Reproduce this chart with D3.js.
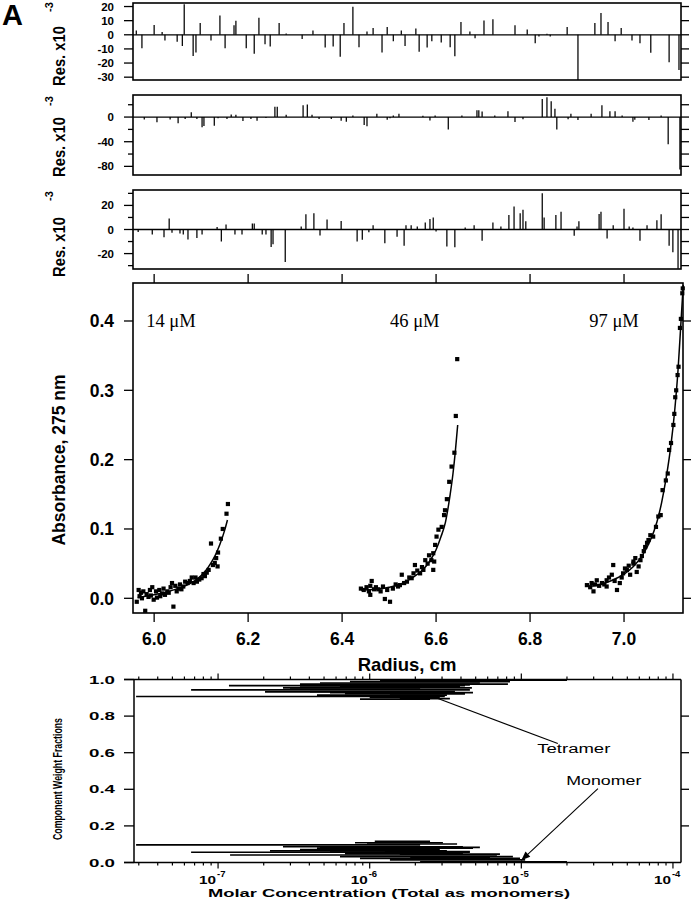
<!DOCTYPE html>
<html><head><meta charset="utf-8">
<script src="https://cdn.jsdelivr.net/npm/d3@7"></script>
<style>body{margin:0;background:#fff}svg{display:block}</style>
</head><body>
<script>
// ---------------- DATA ----------------
const radiusTicks = [6.0, 6.2, 6.4, 6.6, 6.8, 7.0];
const absTicks = [0.0, 0.1, 0.2, 0.3, 0.4];
const concLabels = ["14 μM", "46 μM", "97 μM"];
const concLabelPos = [[5.983, 0.392], [6.502, 0.392], [6.926, 0.392]];

const pts14 = [[5.963,-0.005],[5.967,0.012],[5.969,0.003],[5.972,0.008],[5.974,0.000],[5.977,0.010],[5.981,-0.018],[5.984,0.006],[5.988,0.002],[5.991,0.012],[5.993,0.004],[5.996,0.016],[5.999,-0.002],[6.004,0.010],[6.006,0.001],[6.011,0.012],[6.013,0.003],[6.017,0.007],[6.020,0.014],[6.023,0.005],[6.028,0.010],[6.031,0.008],[6.035,0.016],[6.038,0.022],[6.041,-0.012],[6.045,0.018],[6.048,0.010],[6.052,0.014],[6.055,0.020],[6.058,0.013],[6.062,0.017],[6.066,0.024],[6.071,0.022],[6.076,0.025],[6.080,0.030],[6.084,0.022],[6.088,0.030],[6.091,0.024],[6.096,0.027],[6.101,0.029],[6.105,0.035],[6.108,0.032],[6.112,0.037],[6.116,0.041],[6.121,0.079],[6.125,0.048],[6.129,0.051],[6.132,0.058],[6.135,0.046],[6.136,0.066],[6.142,0.086],[6.146,0.100],[6.154,0.122],[6.157,0.136]];
const pts46 = [[6.440,0.014],[6.446,0.012],[6.452,0.016],[6.457,0.010],[6.460,0.018],[6.460,0.005],[6.463,0.025],[6.468,0.013],[6.472,0.016],[6.477,0.013],[6.482,0.010],[6.487,0.017],[6.491,-0.001],[6.496,0.012],[6.502,-0.005],[6.508,0.014],[6.514,0.020],[6.519,0.017],[6.523,0.019],[6.527,0.034],[6.532,0.022],[6.538,0.024],[6.543,0.030],[6.548,0.029],[6.552,0.036],[6.555,0.048],[6.560,0.040],[6.566,0.036],[6.570,0.045],[6.573,0.041],[6.577,0.055],[6.582,0.050],[6.585,0.062],[6.590,0.055],[6.594,0.041],[6.594,0.065],[6.596,0.053],[6.598,0.077],[6.601,0.089],[6.605,0.099],[6.612,0.103],[6.617,0.120],[6.619,0.127],[6.623,0.143],[6.628,0.168],[6.633,0.190],[6.639,0.210],[6.642,0.263],[6.645,0.345]];
const pts97 = [[6.921,0.019],[6.928,0.016],[6.931,0.022],[6.935,0.010],[6.938,0.020],[6.942,0.026],[6.947,0.018],[6.953,0.022],[6.958,0.020],[6.963,0.017],[6.963,0.026],[6.968,0.030],[6.974,0.034],[6.977,0.048],[6.980,0.025],[6.985,0.012],[6.991,0.022],[6.995,0.030],[6.998,0.036],[7.002,0.043],[7.006,0.041],[7.010,0.047],[7.013,0.034],[7.020,0.050],[7.020,0.053],[7.024,0.058],[7.027,0.038],[7.031,0.046],[7.035,0.055],[7.038,0.061],[7.042,0.068],[7.045,0.074],[7.049,0.080],[7.052,0.084],[7.056,0.091],[7.062,0.089],[7.068,0.103],[7.073,0.118],[7.078,0.120],[7.082,0.156],[7.089,0.170],[7.093,0.180],[7.096,0.214],[7.100,0.224],[7.105,0.250],[7.107,0.266],[7.109,0.290],[7.111,0.300],[7.114,0.322],[7.116,0.334],[7.119,0.390],[7.121,0.403],[7.124,0.440],[7.125,0.447]];

const fit14 = [[5.965,0.001],[5.99,0.004],[6.02,0.008],[6.05,0.014],[6.07,0.019],[6.09,0.027],[6.10,0.033],[6.11,0.040],[6.12,0.050],[6.13,0.062],[6.14,0.078],[6.15,0.098],[6.156,0.113]];
const fit46 = [[6.44,0.012],[6.47,0.013],[6.50,0.016],[6.53,0.022],[6.55,0.030],[6.57,0.040],[6.585,0.052],[6.60,0.070],[6.61,0.088],[6.62,0.110],[6.63,0.150],[6.636,0.180],[6.641,0.212],[6.646,0.250]];
const fit97 = [[6.925,0.017],[6.95,0.020],[6.975,0.026],[7.0,0.035],[7.02,0.046],[7.04,0.063],[7.055,0.082],[7.07,0.110],[7.08,0.138],[7.09,0.175],[7.10,0.222],[7.108,0.272],[7.115,0.330],[7.12,0.385],[7.124,0.430],[7.126,0.452]];

// residuals [radius, residual x10^-3]
const res1 = [[5.962,3],[5.974,-9.5],[6.000,7],[6.017,2],[6.023,-4],[6.049,-5],[6.060,-8],[6.064,21.7],[6.083,-15],[6.089,-12.5],[6.098,8.3],[6.121,-4],[6.140,13.6],[6.151,-9.5],[6.170,6.7],[6.174,10],[6.196,-9.5],[6.213,-13.5],[6.223,12],[6.236,-6.7],[6.247,-8.3],[6.266,8.3],[6.281,1],[6.315,-3],[6.338,3],[6.364,-9],[6.381,-8.3],[6.396,-15.5],[6.404,8.3],[6.423,19.8],[6.436,-8.8],[6.453,2.4],[6.466,4.8],[6.485,-12.6],[6.496,5.5],[6.509,-4.5],[6.526,3],[6.534,-8],[6.557,4.5],[6.564,-12],[6.581,-9],[6.591,-4.5],[6.611,-5.5],[6.630,-8.8],[6.640,-15.2],[6.653,9],[6.672,2.4],[6.683,-2.4],[6.702,10.2],[6.721,11],[6.768,6.7],[6.794,3.8],[6.811,-6],[6.819,-1.2],[6.836,0.7],[6.843,-1.2],[6.879,5.5],[6.902,-32],[6.938,8.3],[6.951,15.5],[6.966,9],[6.981,-4.5],[6.994,4.8],[7.017,-4],[7.034,-6],[7.057,-12.8],[7.096,-19.5],[7.117,-25]];
const res2 = [[5.979,-3.8],[6.006,-8.6],[6.034,-3.8],[6.051,-10],[6.066,-3],[6.079,8],[6.091,-3],[6.102,-16.7],[6.106,-14.6],[6.128,-14],[6.136,-2],[6.155,-3],[6.164,4.3],[6.174,3.8],[6.189,-6.5],[6.206,-3],[6.219,-6],[6.238,-1.6],[6.257,16.7],[6.262,16.7],[6.281,3.8],[6.317,19],[6.326,20.5],[6.336,3.8],[6.351,-3],[6.377,-3],[6.398,-6],[6.409,-7.5],[6.423,2.7],[6.447,-12.8],[6.453,-15],[6.474,5.4],[6.496,-4.3],[6.502,-2],[6.509,2.7],[6.521,5.4],[6.572,2],[6.587,-5.4],[6.598,2.7],[6.626,-20],[6.655,2.7],[6.687,11.2],[6.691,11.2],[6.698,9],[6.725,2.7],[6.753,9.6],[6.768,-8],[6.785,-3.7],[6.826,29.4],[6.836,32],[6.845,25.7],[6.853,13.4],[6.857,-20],[6.881,-3.7],[6.887,5.4],[6.902,-4.8],[6.930,5.4],[6.953,19.3],[6.970,9.6],[6.981,9.6],[6.996,2.7],[7.019,-7.5],[7.023,-4.3],[7.053,-4.8],[7.079,2.7],[7.094,-44],[7.119,-85]];
const res3 = [[5.966,-2],[5.996,-4.2],[6.021,-6.4],[6.032,9.2],[6.038,-2.8],[6.055,-3.4],[6.062,-4.2],[6.072,-8.4],[6.091,-7],[6.102,-4.2],[6.134,2],[6.143,-10],[6.153,4.2],[6.172,-4.2],[6.187,-4.2],[6.209,5],[6.213,5],[6.230,-4.2],[6.238,-4.2],[6.249,-14.6],[6.253,-12.3],[6.279,-27],[6.313,2.5],[6.323,12.6],[6.340,13.4],[6.353,-5],[6.368,8.4],[6.398,7],[6.432,-10],[6.443,-8.5],[6.457,-2.2],[6.466,3.6],[6.491,-11.5],[6.517,-6],[6.532,-13.4],[6.536,3.6],[6.547,3.6],[6.560,2.5],[6.577,5.8],[6.587,8.8],[6.594,9.9],[6.600,-1.6],[6.623,-14.2],[6.640,-14.8],[6.662,1.6],[6.681,3.6],[6.698,-9.3],[6.721,5.8],[6.738,2.5],[6.755,12],[6.766,19.2],[6.779,13.4],[6.785,16.4],[6.791,6.8],[6.826,30],[6.830,10],[6.855,12],[6.866,14.8],[6.894,-5.2],[6.900,2.5],[6.904,6.8],[6.947,12.9],[6.951,14.8],[6.964,-7.4],[6.977,3.6],[7.000,17.3],[7.011,2.5],[7.019,1.6],[7.034,-9.3],[7.049,3.6],[7.070,7.7],[7.079,12.6],[7.096,-13.4],[7.104,-18.9],[7.115,-32.6]];

const res1Ticks = [20, 10, 0, -10, -20, -30];
const res2Ticks = [0, -40, -80];
const res2Minor = [20, -20, -60];
const res3Ticks = [20, 0, -20];
const res3Minor = [30, 10, -10, -30];

// component weight fraction segments [conc low, conc high, fraction]
const tetramerSegs = [[2.88e-8,3.13e-6,0.907],[6.64e-8,4.58e-6,0.943],[1.18e-7,4.25e-6,0.966],[2.68e-7,4.72e-6,0.954],[3.47e-7,8.16e-6,0.975],[4.49e-7,3.23e-6,0.915],[5.47e-7,4.8e-6,0.928],[7.41e-7,8.42e-6,0.988],[8.63e-7,2.5e-6,0.893],[6.37e-7,3.94e-6,0.962],[1.0e-6,2.9e-6,0.902],[2.98e-7,2.15e-6,0.948],[4.04e-7,3.65e-6,0.934],[1.17e-6,2.0e-5,0.997],[4.70e-7,5.33e-6,0.981],[6.87e-7,2.9e-6,0.923],[1.36e-6,4.25e-6,0.921],[3.47e-7,1.58e-6,0.959],[2.04e-7,1.17e-6,0.932],[8.0e-7,4.58e-6,0.970],[1.58e-6,3.38e-6,0.896]];
const monomerSegs = [[2.88e-8,2.15e-6,0.096],[6.64e-8,4.58e-6,0.056],[1.20e-7,6.9e-6,0.041],[2.68e-7,4.12e-6,0.086],[4.49e-7,4.8e-6,0.079],[5.47e-7,3.23e-6,0.064],[8.0e-7,3.04e-6,0.108],[9.6e-7,3.77e-6,0.101],[6.37e-7,8.8e-6,0.032],[8.63e-7,9.8e-6,0.023],[1.36e-6,1.06e-5,0.014],[2.15e-6,2.0e-5,0.004],[3.47e-7,2.9e-6,0.071],[6.87e-7,4.12e-6,0.049],[4.70e-7,5.33e-6,0.083],[1.08e-6,2.5e-6,0.115],[1.26e-6,4.58e-6,0.060],[1.58e-6,7.23e-6,0.046],[2.2e-7,1.58e-6,0.063],[1.85e-6,6.21e-6,0.027]];
const fracTicks = [0.0, 0.2, 0.4, 0.6, 0.8, 1.0];
const decadeTicks = [1e-7, 1e-6, 1e-5, 1e-4];
const decadeExp = ["-7", "-6", "-5", "-4"];
const tetramerNote = {text: "Tetramer", from: [2.5e-6, 0.913], to: [1.74e-5, 0.65], at: [2.22e-5, 0.60]};
const monomerNote = {text: "Monomer", from: [3.2e-5, 0.404], to: [1.0e-5, 0.012], at: [3.5e-5, 0.425]};

// ---------------- DRAWING ----------------
const FONT = "'Liberation Sans', Arial, Helvetica, sans-serif";
const SERIF = "'Liberation Serif', 'Times New Roman', serif";
const svg = d3.select("body").append("svg").attr("width", 696).attr("height", 899);
svg.append("rect").attr("width", 696).attr("height", 899).attr("fill", "#fff");

svg.append("text").attr("x", 2).attr("y", 25).attr("font-family", FONT).attr("font-weight", "bold")
  .attr("font-size", 29).text("A");

// shared x scales
const xMain = d3.scaleLinear().domain([5.955, 7.1255]).range([133, 683]);
const xRes = d3.scaleLinear().domain([5.955, 7.1213]).range([133, 681]);

// residual panels
const panels = [
  {data: res1, top: 3, bottom: 80, dom: [-32, 22.5], ticks: res1Ticks, minor: [], right: res1Ticks, labC: 56, supC: 7},
  {data: res2, top: 95, bottom: 175, dom: [-94, 35.8], ticks: res2Ticks, minor: res2Minor, right: [20, 0, -20, -40, -60, -80], labC: 147, supC: 101},
  {data: res3, top: 190, bottom: 269, dom: [-32.8, 32.8], ticks: res3Ticks, minor: res3Minor, right: [30, 20, 10, 0, -10, -20, -30], labC: 247, supC: 196}
];
panels.forEach((p, i) => {
  const y = d3.scaleLinear().domain(p.dom).range([p.bottom, p.top]);
  const g = svg.append("g");
  const cid = "clipr" + i;
  svg.append("clipPath").attr("id", cid).append("rect").attr("x", 133).attr("y", p.top).attr("width", 548).attr("height", p.bottom - p.top);
  const gb = g.append("g").attr("clip-path", `url(#${cid})`);
  gb.append("line").attr("x1", 133).attr("x2", 681).attr("y1", y(0)).attr("y2", y(0)).attr("stroke", "#000").attr("stroke-width", 1.3);
  gb.selectAll(null).data(p.data).enter().append("line")
    .attr("x1", d => xRes(d[0])).attr("x2", d => xRes(d[0]))
    .attr("y1", y(0)).attr("y2", d => y(d[1]))
    .attr("stroke", "#000").attr("stroke-width", 1.25);
  g.append("rect").attr("x", 133).attr("y", p.top).attr("width", 548).attr("height", p.bottom - p.top)
    .attr("fill", "none").attr("stroke", "#000").attr("stroke-width", 1.6);
  g.selectAll(null).data(p.ticks).enter().append("line")
    .attr("x1", 124).attr("x2", 133).attr("y1", d => y(d)).attr("y2", d => y(d)).attr("stroke", "#000").attr("stroke-width", 1.3);
  g.selectAll(null).data(p.minor).enter().append("line")
    .attr("x1", 128).attr("x2", 133).attr("y1", d => y(d)).attr("y2", d => y(d)).attr("stroke", "#000").attr("stroke-width", 1.3);
  g.selectAll(null).data(p.right).enter().append("line")
    .attr("x1", 681).attr("x2", 689).attr("y1", d => y(d)).attr("y2", d => y(d)).attr("stroke", "#000").attr("stroke-width", 1.3);
  g.selectAll(null).data(p.ticks).enter().append("text")
    .attr("x", 114).attr("y", d => y(d) + 4).attr("text-anchor", "end")
    .attr("font-family", FONT).attr("font-weight", "bold").attr("font-size", 11.5).text(d => d);
  g.append("text").attr("transform", `translate(65,${p.labC}) rotate(-90)`).attr("text-anchor", "middle")
    .attr("font-family", FONT).attr("font-weight", "bold").attr("font-size", 16)
    .attr("textLength", 60).attr("lengthAdjust", "spacingAndGlyphs").text("Res. x10");
  g.append("text").attr("transform", `translate(53,${p.supC}) rotate(-90)`).attr("text-anchor", "middle")
    .attr("font-family", FONT).attr("font-weight", "bold").attr("font-size", 11).text("-3");
});

// main absorbance plot
const yMain = d3.scaleLinear().domain([-0.0212, 0.4548]).range([613, 283]);
const gm = svg.append("g");
svg.append("clipPath").attr("id", "clipm").append("rect").attr("x", 133).attr("y", 283).attr("width", 554).attr("height", 330);
const line = d3.line().x(d => xMain(d[0])).y(d => yMain(d[1])).curve(d3.curveMonotoneX);
const gd = gm.append("g").attr("clip-path", "url(#clipm)");
[fit14, fit46, fit97].forEach(f => gd.append("path").attr("d", line(f)).attr("fill", "none").attr("stroke", "#000").attr("stroke-width", 1.5));
[pts14, pts46, pts97].forEach(ps => gd.selectAll(null).data(ps).enter().append("rect")
  .attr("x", d => xMain(d[0]) - 2.1).attr("y", d => yMain(d[1]) - 2.1).attr("width", 4.2).attr("height", 4.2).attr("fill", "#000"));
gm.append("rect").attr("x", 133).attr("y", 283).attr("width", 550).attr("height", 330)
  .attr("fill", "none").attr("stroke", "#000").attr("stroke-width", 1.6);
// ticks
gm.selectAll(null).data(radiusTicks).enter().append("line")
  .attr("x1", d => xMain(d)).attr("x2", d => xMain(d)).attr("y1", 613).attr("y2", 622).attr("stroke", "#000").attr("stroke-width", 1.3);
gm.selectAll(null).data(radiusTicks).enter().append("line")
  .attr("x1", d => xMain(d)).attr("x2", d => xMain(d)).attr("y1", 283).attr("y2", 274).attr("stroke", "#000").attr("stroke-width", 1.3);
gm.selectAll(null).data(absTicks).enter().append("line")
  .attr("x1", 124).attr("x2", 133).attr("y1", d => yMain(d)).attr("y2", d => yMain(d)).attr("stroke", "#000").attr("stroke-width", 1.3);
gm.selectAll(null).data(absTicks).enter().append("line")
  .attr("x1", 683).attr("x2", 691).attr("y1", d => yMain(d)).attr("y2", d => yMain(d)).attr("stroke", "#000").attr("stroke-width", 1.3);
gm.selectAll(null).data(radiusTicks).enter().append("text")
  .attr("x", d => xMain(d)).attr("y", 645).attr("text-anchor", "middle")
  .attr("font-family", FONT).attr("font-weight", "bold").attr("font-size", 17.5).text(d => d.toFixed(1));
gm.selectAll(null).data(absTicks).enter().append("text")
  .attr("x", 114).attr("y", d => yMain(d) + 6.5).attr("text-anchor", "end")
  .attr("font-family", FONT).attr("font-weight", "bold").attr("font-size", 17.5).text(d => d.toFixed(1));
gm.append("text").attr("x", 407).attr("y", 671).attr("text-anchor", "middle")
  .attr("font-family", FONT).attr("font-weight", "bold").attr("font-size", 18.5).text("Radius, cm");
gm.append("text").attr("transform", "translate(65,460) rotate(-90)").attr("text-anchor", "middle")
  .attr("font-family", FONT).attr("font-weight", "bold").attr("font-size", 17.5).text("Absorbance, 275 nm");
gm.selectAll(null).data(concLabels).enter().append("text")
  .attr("x", (d, i) => xMain(concLabelPos[i][0])).attr("y", (d, i) => yMain(concLabelPos[i][1]))
  .attr("font-family", SERIF).attr("font-size", 18.5).text(d => d);

// component weight fractions
const xC = d3.scaleLog().domain([2.79e-8, 1.13e-4]).range([134, 681]);
const yF = d3.scaleLinear().domain([0, 1]).range([862.5, 679.5]);
const gc = svg.append("g");
svg.append("clipPath").attr("id", "clipc").append("rect").attr("x", 134).attr("y", 678).attr("width", 547).attr("height", 186);
const gcd = gc.append("g").attr("clip-path", "url(#clipc)");
[tetramerSegs, monomerSegs].forEach(segs => gcd.selectAll(null).data(segs).enter().append("line")
  .attr("x1", d => xC(d[0])).attr("x2", d => xC(d[1])).attr("y1", d => yF(d[2])).attr("y2", d => yF(d[2]))
  .attr("stroke", "#000").attr("stroke-width", 1.7));
// frame
gc.append("line").attr("x1", 124).attr("x2", 681).attr("y1", yF(1)).attr("y2", yF(1)).attr("stroke", "#000").attr("stroke-width", 1.5);
gc.append("line").attr("x1", 124).attr("x2", 681).attr("y1", yF(0)).attr("y2", yF(0)).attr("stroke", "#000").attr("stroke-width", 1.5);
gc.append("line").attr("x1", 134).attr("x2", 134).attr("y1", yF(1)).attr("y2", yF(0)).attr("stroke", "#000").attr("stroke-width", 1.5);
gc.append("line").attr("x1", 681).attr("x2", 681).attr("y1", yF(1)).attr("y2", yF(0)).attr("stroke", "#000").attr("stroke-width", 1.5);
gc.selectAll(null).data(fracTicks).enter().append("line")
  .attr("x1", 124).attr("x2", 134).attr("y1", d => yF(d)).attr("y2", d => yF(d)).attr("stroke", "#000").attr("stroke-width", 1.3);
gc.selectAll(null).data(fracTicks.filter(d => d > 0 && d < 1)).enter().append("line")
  .attr("x1", 681).attr("x2", 689).attr("y1", d => yF(d)).attr("y2", d => yF(d)).attr("stroke", "#000").attr("stroke-width", 1.3);
gc.selectAll(null).data(fracTicks).enter().append("text")
  .attr("x", 115).attr("y", d => yF(d) + 4).attr("text-anchor", "end")
  .attr("font-family", FONT).attr("font-weight", "bold").attr("font-size", 11)
  .attr("textLength", 26).attr("lengthAdjust", "spacingAndGlyphs").text(d => d.toFixed(1));
// log ticks
const logTicks = xC.ticks().filter(t => xC(t) >= 134 && xC(t) <= 681);
const isMajor = t => Math.abs(Math.log10(t) - Math.round(Math.log10(t))) < 1e-6;
gc.selectAll(null).data(logTicks).enter().append("line")
  .attr("x1", d => xC(d)).attr("x2", d => xC(d)).attr("y1", yF(1)).attr("y2", d => yF(1) - (isMajor(d) ? 6 : 3))
  .attr("stroke", "#000").attr("stroke-width", 1.2);
gc.selectAll(null).data(logTicks).enter().append("line")
  .attr("x1", d => xC(d)).attr("x2", d => xC(d)).attr("y1", yF(0)).attr("y2", d => yF(0) + (isMajor(d) ? 6 : 3))
  .attr("stroke", "#000").attr("stroke-width", 1.2);
gc.selectAll(null).data(decadeTicks).enter().append("text")
  .attr("x", d => xC(d) - 2).attr("y", 884).attr("text-anchor", "end")
  .attr("font-family", FONT).attr("font-weight", "bold").attr("font-size", 11)
  .attr("textLength", 17).attr("lengthAdjust", "spacingAndGlyphs").text("10");
gc.selectAll(null).data(decadeTicks).enter().append("text")
  .attr("x", d => xC(d) - 1).attr("y", 877).attr("text-anchor", "start")
  .attr("font-family", FONT).attr("font-weight", "bold").attr("font-size", 9.5)
  .text((d, i) => decadeExp[i]);
gc.append("text").attr("x", 389).attr("y", 897).attr("text-anchor", "middle")
  .attr("font-family", FONT).attr("font-weight", "bold").attr("font-size", 11)
  .attr("textLength", 362).attr("lengthAdjust", "spacingAndGlyphs").text("Molar Concentration (Total as monomers)");
gc.append("text").attr("transform", "translate(62,779) rotate(-90)").attr("text-anchor", "middle")
  .attr("font-family", FONT).attr("font-weight", "bold").attr("font-size", 13)
  .attr("textLength", 122).attr("lengthAdjust", "spacingAndGlyphs").text("Component Weight Fractions");
// annotations
[tetramerNote, monomerNote].forEach((n, i) => {
  gc.append("line").attr("x1", xC(n.from[0])).attr("y1", yF(n.from[1])).attr("x2", xC(n.to[0])).attr("y2", yF(n.to[1]))
    .attr("stroke", "#000").attr("stroke-width", 1.1);
  gc.append("text").attr("x", xC(n.at[0])).attr("y", yF(n.at[1])).attr("text-anchor", "middle")
    .attr("font-family", FONT).attr("font-size", 12).attr("textLength", i === 0 ? 73 : 75)
    .attr("lengthAdjust", "spacingAndGlyphs").text(n.text);
});
// arrowhead for monomer
{
  const x2 = xC(monomerNote.to[0]), y2 = yF(monomerNote.to[1]);
  const x1 = xC(monomerNote.from[0]), y1 = yF(monomerNote.from[1]);
  const ang = Math.atan2(y2 - y1, x2 - x1);
  const L = 9, w = 3.5;
  const bx = x2 - L * Math.cos(ang), by = y2 - L * Math.sin(ang);
  const px = -Math.sin(ang) * w, py = Math.cos(ang) * w;
  gc.append("path").attr("d", `M${x2},${y2}L${bx + px},${by + py}L${bx - px},${by - py}Z`).attr("fill", "#000");
}
</script>
</body></html>
